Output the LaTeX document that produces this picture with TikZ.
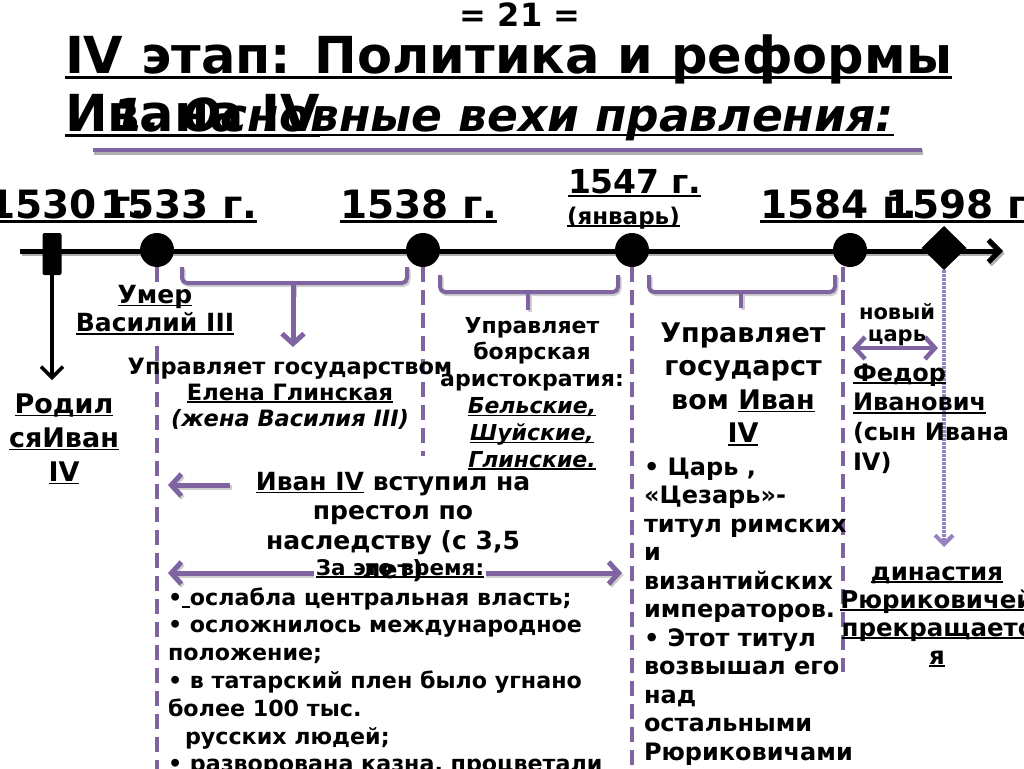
\documentclass[tikz,border=0pt]{standalone}
\usepackage{fontspec}
\setmainfont{DejaVu Sans}
\usetikzlibrary{arrows.meta,shapes.geometric}
\definecolor{pur}{RGB}{128,100,162}
\definecolor{purl}{RGB}{150,130,192}
\definecolor{shad}{RGB}{175,175,175}
\newcommand\myul[1]{\sbox0{#1}\rlap{\rule[-0.12em]{\wd0}{0.06em}}\usebox0}
\newcommand\fsz[2]{\fontsize{#1}{#2}\selectfont}
\tikzset{
  every node/.style={inner sep=0pt, outer sep=0pt},
  yr/.style={anchor=base west, font=\bfseries\fsz{39}{44}},
  blk/.style={align=center, anchor=north},
  blkl/.style={align=left, anchor=north west},
  dashl/.style={pur, line width=3.5pt, dash pattern=on 15pt off 8pt},
  dotl/.style={purl, line width=4pt, dash pattern=on 2.5pt off 1.5pt},
  brk/.style={pur, line width=4pt, rounded corners=5pt},
  brksh/.style={shad!60, line width=4pt, rounded corners=5pt},
  parr/.style={pur, line width=5pt, -{Straight Barb[length=10pt,width=22pt]}},
  parr2/.style={pur, line width=5pt, {Straight Barb[length=10pt,width=22pt]}-{Straight Barb[length=10pt,width=22pt]}},
  barr/.style={black, line width=3.5pt, -{Straight Barb[length=11pt,width=22pt]}},
  dot/.style={circle, fill=black, minimum size=34pt},
}
\begin{document}
\begin{tikzpicture}[x=1pt,y=-1pt]
\useasboundingbox (0,0) rectangle (1024,768);

% ---- titles
\node[anchor=base, font=\bfseries\fsz{32}{36}] (pg) at (520,27) {= 21 =};
\node[anchor=base west, font=\bfseries\fsz{51}{56}] (t1) at (65,73) {\myul{IV этап: Политика и реформы}};
\node[anchor=base west, font=\bfseries\fsz{51}{56}] (t2) at (65,131) {\myul{Ивана IV}};
\node[anchor=base west, font=\bfseries\itshape\fsz{45.5}{50}] (t3) at (112,131) {\myul{1. Основные вехи правления:}};
\coordinate (plL) at (93,150);
\coordinate (plR) at (922,150);
\draw[shad, line width=4.5pt] ([shift={(1,2.5)}]plL) -- ([shift={(1,2.5)}]plR);
\draw[pur, line width=4.5pt] (plL) -- (plR);

% ---- years
\node[yr] (y1530) at (-12,218) {\myul{1530 г.}};
\node[yr] (y1533) at (100,218) {\myul{1533 г.}};
\node[yr] (y1538) at (340,218) {\myul{1538 г.}};
\node[anchor=base west, font=\bfseries\fsz{33}{38}] (y1547) at (568,193) {\myul{1547 г.}};
\node[anchor=base west, font=\bfseries\fsz{23}{26}] (jan) at (567,224) {\myul{(январь)}};
\node[yr] (y1584) at (760,218) {\myul{1584 г.}};
\node[yr] (y1598) at (885,218) {\myul{1598 г.}};

% ---- timeline
\coordinate (tlS) at (20,251);
\coordinate (tlE) at (1003,251);
\draw[shad, line width=5pt, -{Straight Barb[length=11pt,width=22pt]}] ([shift={(1.5,2.5)}]tlS) -- ([shift={(1.5,2.5)}]tlE);
\draw[black, line width=5pt, -{Straight Barb[length=11pt,width=22pt]}] (tlS) -- (tlE);

\node[fill=black, rounded corners=2pt, minimum width=19pt, minimum height=42pt] (m1530) at (52,254) {};
\node[dot] (c1533) at (157,250) {};
\node[dot] (c1538) at (423,250) {};
\node[dot] (c1547) at (632,250) {};
\node[dot] (c1584) at (850,250) {};
\node[diamond, fill=black, minimum width=45pt, minimum height=44pt] (d1598) at (944,248) {};

% ---- 1530 arrow
\coordinate (a1530E) at (52,380);
\draw[barr] (m1530.south) -- (a1530E);

% ---- dashed verticals
\coordinate (v1533a) at (157,285);
\coordinate (v1533b) at (157,346);
\coordinate (v1533c) at (157,770);
\draw[dashl] (c1533.south) -- (v1533a);
\draw[dashl] (v1533b) -- (v1533c);
\coordinate (v1538) at (423,456);
\draw[dashl] (c1538.south) -- (v1538);
\coordinate (v1547) at (632,770);
\draw[dashl] (c1547.south) -- (v1547);
\coordinate (v1584a) at (843,267);
\coordinate (v1584b) at (843,672);
\draw[dashl] (v1584a) -- (v1584b);
\coordinate (dotE) at (944,547);
\draw[dotl, -{Straight Barb[length=9pt,width=18pt]}] (d1598.south) -- (dotE);

% ---- brackets
\foreach \l/\r/\t/\h/\c/\b in {182/407/267/283/293/295, 440/618/275/292/528/310, 649/835/275/292/741/308}{
  \draw[brksh] (\l+1.5,\t+2) -- (\l+1.5,\h+2) -- (\r+1.5,\h+2) -- (\r+1.5,\t+2);
  \draw[brksh] (\c+1.5,\h+2) -- (\c+1.5,\b+2);
  \draw[brk] (\l,\t) -- (\l,\h) -- (\r,\h) -- (\r,\t);
  \draw[pur, line width=4pt] (\c,\h) -- (\c,\b);
}
\coordinate (baS) at (293,283);
\coordinate (baE) at (293,347);
\draw[parr] (baS) -- (baE);

% ---- purple arrows
\coordinate (alS) at (230,485);
\coordinate (alE) at (168,485);
\draw[shad!60, line width=5pt, -{Straight Barb[length=10pt,width=22pt]}] ([shift={(1.5,2)}]alS) -- ([shift={(1.5,2)}]alE);
\draw[parr] (alS) -- (alE);
\coordinate (adS) at (168,573);
\coordinate (adE) at (622,573);
\draw[shad!60, line width=5pt, {Straight Barb[length=10pt,width=22pt]}-{Straight Barb[length=10pt,width=22pt]}] ([shift={(1.5,2)}]adS) -- ([shift={(1.5,2)}]adE);
\draw[parr2] (adS) -- (adE);
\coordinate (anS) at (852,348);
\coordinate (anE) at (938,348);
\draw[parr2, line width=4.5pt] (anS) -- (anE);

% ---- text blocks
\node[blk, font=\bfseries\fsz{27}{34}] (rodil) at (64,{413-0.7*34}) {\strut\myul{Родил}\\\myul{сяИван}\\\myul{IV}};
\node[blk, font=\bfseries\fsz{25}{28.5}] (umer) at (155,{303-0.7*28.5}) {\strut\myul{Умер}\\\myul{Василий III}};
\node[blk, font=\bfseries\fsz{22.5}{26}] (elena) at (290,{374-0.7*26}) {\strut Управляет государством\\\myul{Елена Глинская}\\\textit{(жена Василия III)}};
\node[blk, font=\bfseries\fsz{22}{26.8}] (boyar) at (532,{333-0.7*26.8}) {\strut Управляет\\боярская\\аристократия:\\\textit{\myul{Бельские,}}\\\textit{\myul{Шуйские,}}\\\textit{\myul{Глинские.}}};
\node[blk, font=\bfseries\fsz{27}{33.5}] (ivan) at (743,{342-0.7*33.5}) {\strut Управляет\\государст\\вом \myul{Иван}\\\myul{IV}};
\node[blkl, font=\bfseries\fsz{24}{28.5}] (tsar) at (644,{475-0.7*28.5}) {\strut• Царь ,\\«Цезарь»-\\титул римских\\и\\византийских\\императоров.\\• Этот титул\\возвышал его\\над\\остальными\\Рюриковичами};
\node[blk, font=\bfseries\fsz{21}{22}] (novy) at (897,{319-0.7*22}) {\strut новый\\царь};
\node[blkl, font=\bfseries\fsz{24}{29.7}] (fedor) at (853,{381-0.7*29.7}) {\strut\myul{Федор}\\\myul{Иванович}\\(сын Ивана\\IV)};
\node[blk, font=\bfseries\fsz{24.5}{28}] (dyn) at (937,{580-0.7*28}) {\strut\myul{династия}\\\myul{Рюриковичей}\\\myul{прекращаетс}\\\myul{я}};
\node[anchor=base, fill=white, inner xsep=2pt, inner ysep=1pt, font=\bfseries\fsz{21.5}{24}] (zaeto) at (400,575) {\myul{За это время:}};
\node[blk, font=\bfseries\fsz{25}{29.5}] (vstup) at (393,{490-0.7*29.5}) {\strut\myul{Иван IV} вступил на\\престол по\\наследству (с 3,5\\лет)};
\node[blkl, font=\bfseries\fsz{22.2}{27.8}] (list) at (168,{605-0.7*27.8}) {\strut•\myul{\ }ослабла центральная власть;\\• осложнилось международное\\положение;\\• в татарский плен было угнано\\более 100 тыс.\\\hspace*{17pt}русских людей;\\• разворована казна, процветали};
\end{tikzpicture}
\end{document}
